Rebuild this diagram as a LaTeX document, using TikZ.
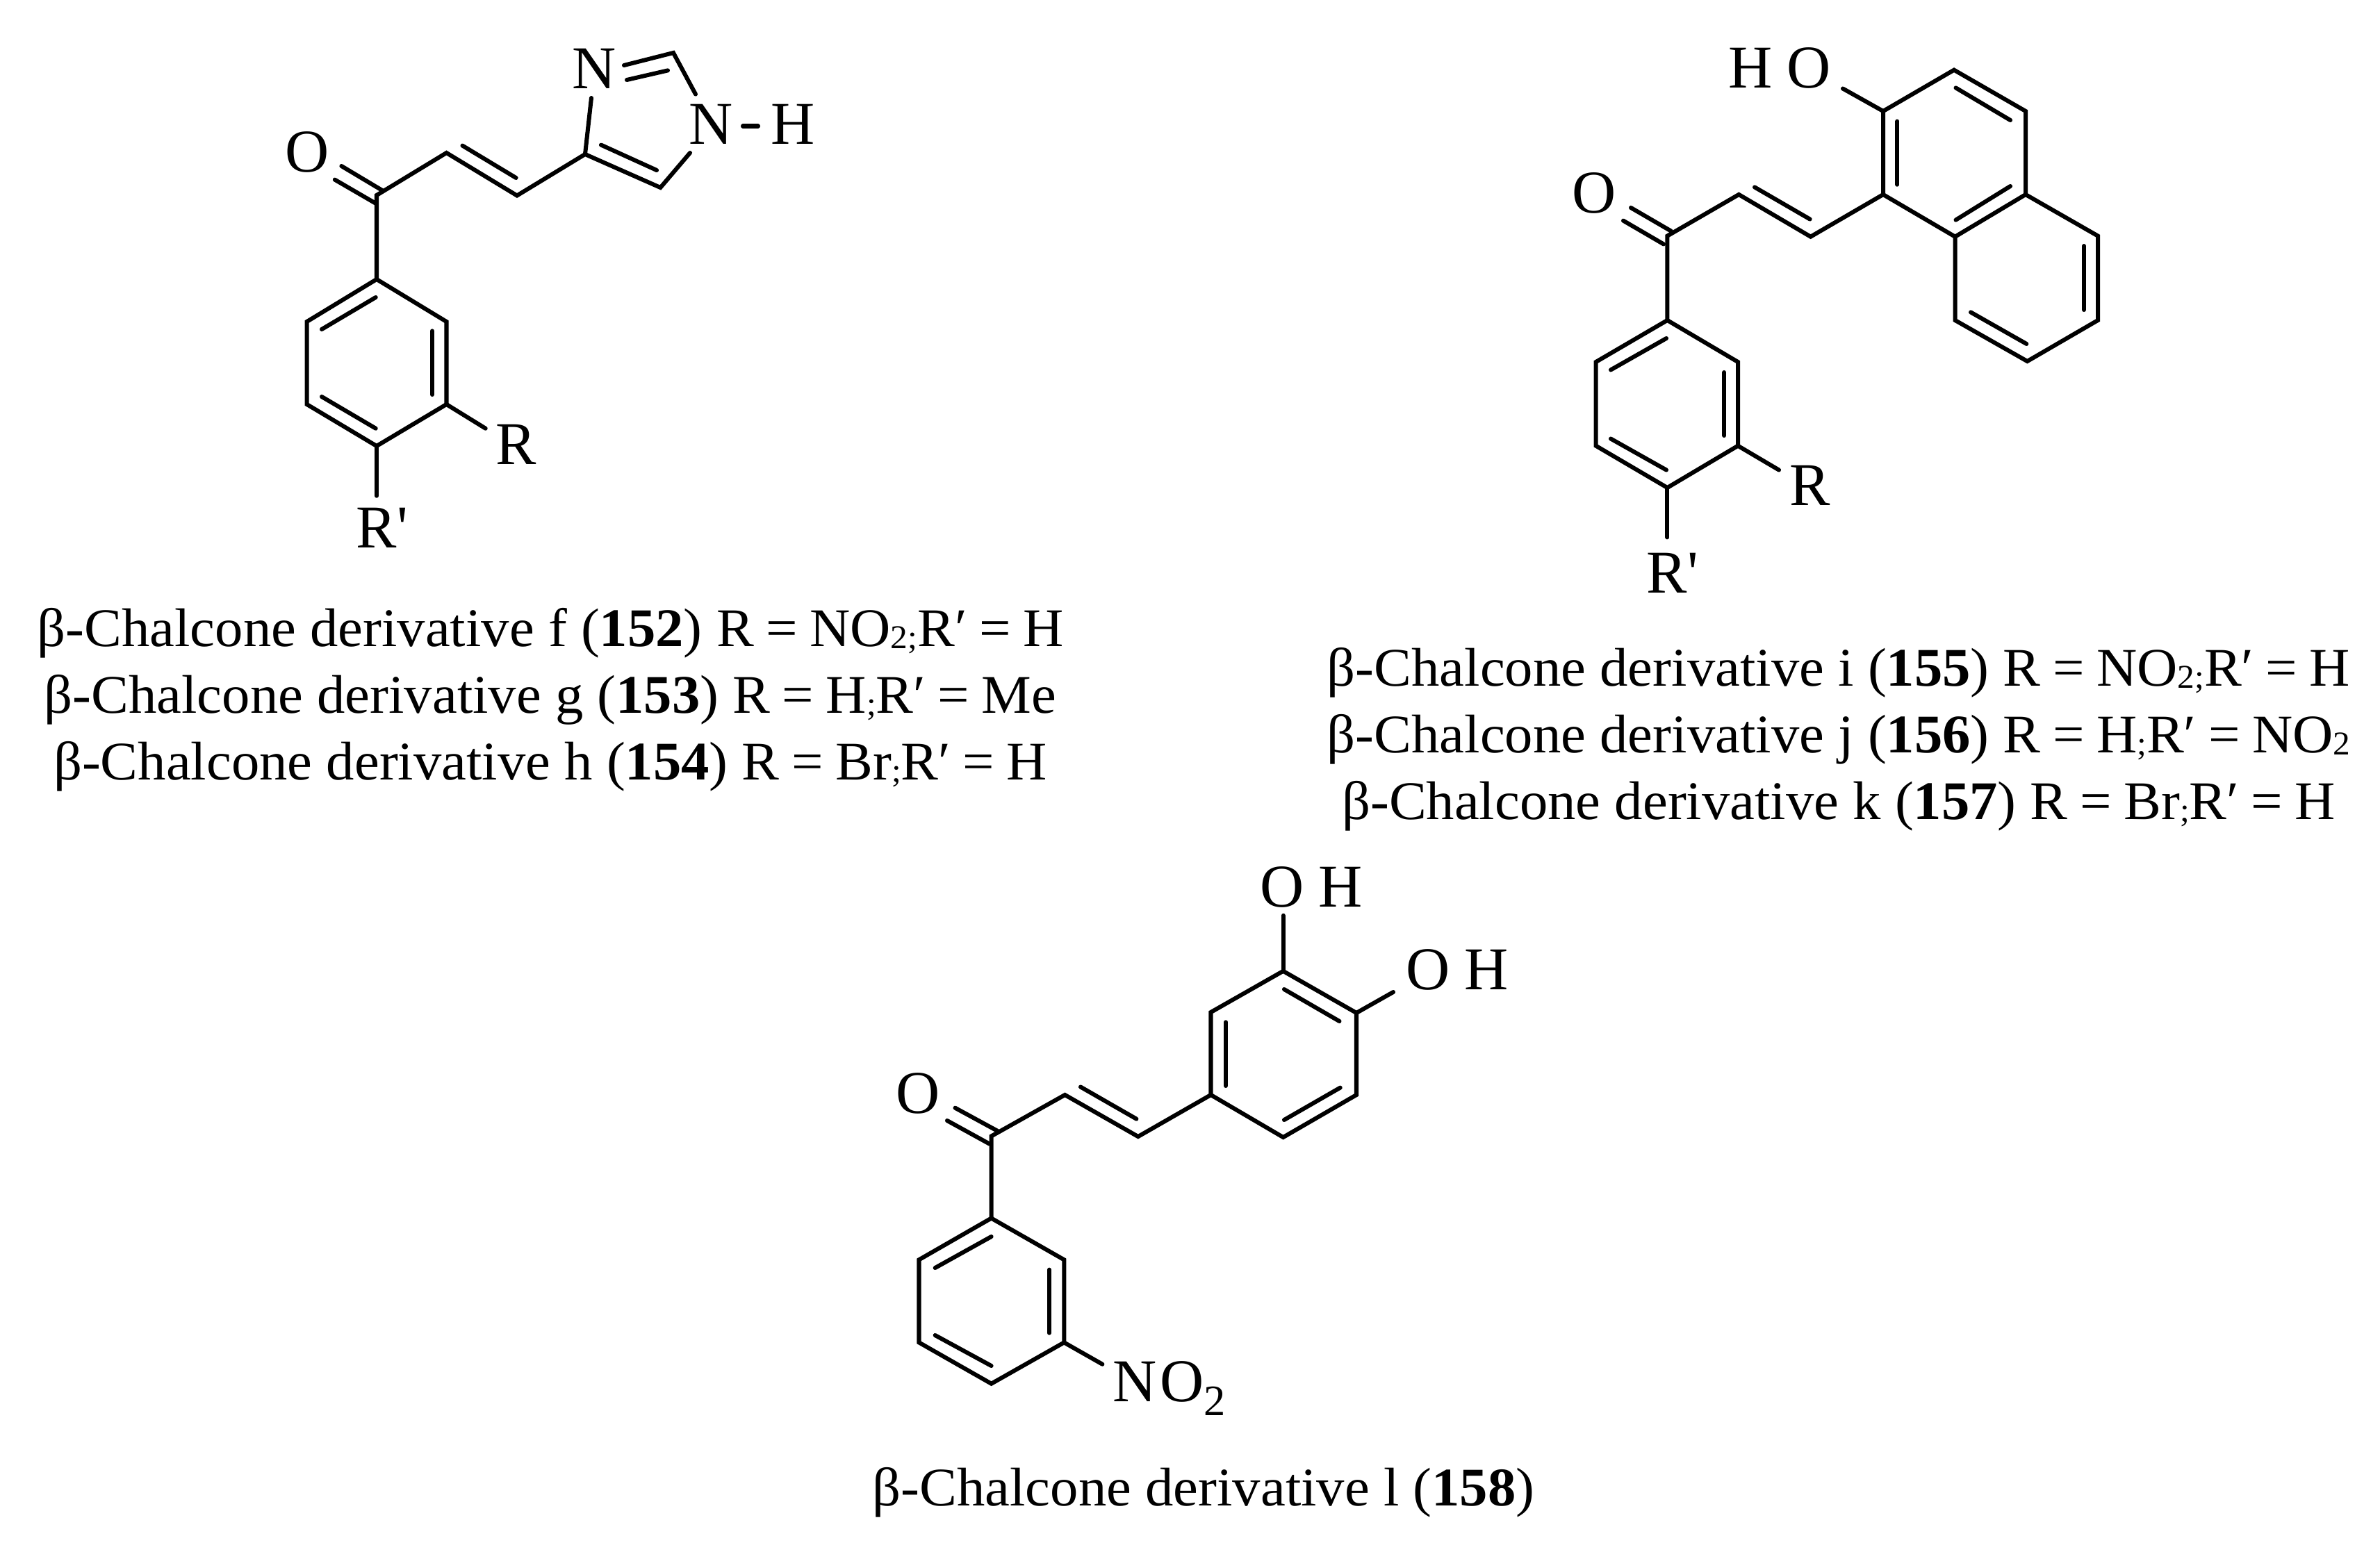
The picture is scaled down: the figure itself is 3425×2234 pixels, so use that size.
\documentclass[tikz,border=0pt]{standalone}
\usepackage{fontspec}
\setmainfont{Liberation Serif}
\newfontfamily\atomfont{Liberation Serif}
\newfontfamily\capfont[FakeStretch=1.03,BoldFont={Liberation Serif Bold},BoldFeatures={FakeStretch=1.03}]{Liberation Serif}
\newcommand{\sbs}[1]{\raisebox{-0.9pt}{\fontsize{11.5pt}{12pt}\selectfont #1}}
\newcommand{\eqs}{\kern4.2pt=\kern4.2pt}
\newcommand{\dbl}[5]{\coordinate (#1s) at (#2,#3); \coordinate (#1e) at (#4,#5); \draw[bond] (#1s) -- (#1e);}
\newcommand{\atm}[3]{\coordinate (#1) at (#2,#3);}
\tikzset{
  bond/.style={line width=1.45pt,line cap=round,line join=miter,black},
  atomlabel/.style={font=\atomfont\fontsize{21pt}{24pt}\selectfont,inner sep=0pt,anchor=base,text=black},
  captionline/.style={font=\capfont\fontsize{18.8pt}{24pt}\selectfont,inner sep=0pt,anchor=base,text=black},
}
\begin{document}
\begin{tikzpicture}[x=0.24pt,y=-0.24pt]
\useasboundingbox (0,0) rectangle (3425,2234);
\fill[white] (0,0) rectangle (3425,2234);

% ---------- molecule A: imidazole ----------
\atm{aC}{542}{281}\atm{aR1}{542}{402}\atm{aR2}{642.5}{463}\atm{aR3}{642.5}{582}\atm{aR4}{542}{642}\atm{aR5}{441.6}{582}\atm{aR6}{441.6}{463}
\atm{aA}{642.5}{220}\atm{aB}{744}{281.5}\atm{aI4}{842}{222}\atm{aI5}{950.4}{270}\atm{aI2}{969}{76}
\atm{aN1a}{993}{220}\atm{aN1b}{1001}{135.6}\atm{aN3a}{851}{141}\atm{aN3b}{898}{94}
\atm{aRe}{698.7}{616.7}\atm{aPe}{542}{713.7}
\draw[bond] (aR2) -- (aR1) -- (aR6) -- (aR5) -- (aR4) -- (aR3) -- cycle;
\draw[bond] (aR1) -- (aC) -- (aA) -- (aB) -- (aI4) -- (aI5) -- (aN1a);
\draw[bond] (aI4) -- (aN3a);
\draw[bond] (aN3b) -- (aI2) -- (aN1b);
\draw[bond] (aR3) -- (aRe);
\draw[bond] (aR4) -- (aPe);
\dbl{aD1}{463}{474}{540.7}{428}
\dbl{aD2}{622}{476.4}{622}{568}
\dbl{aD3}{463}{571}{540.7}{616.7}
\dbl{aD4}{665.5}{209.6}{742.6}{256}
\dbl{aD5}{865}{208.6}{945}{245}
\dbl{aD6}{902}{115}{961}{101.4}
\dbl{aD7}{491.4}{239}{550}{274}
\dbl{aD8}{481.8}{258.6}{540.7}{292.8}
\node[atomlabel] (aO) at (441.6,247) {O};
\node[atomlabel] (aN3) at (855,127) {N};
\node[atomlabel] (aN1) at (1023,207.5) {N};
\node[atomlabel] (aH) at (1140.6,207.5) {H};
\atm{aDa}{1069}{181.5}\atm{aDb}{1091}{181.5}
\draw[bond] (aDa) -- (aDb);
\node[atomlabel] (aRl) at (743,668) {R};
\node[atomlabel] (aPl) at (550,788) {R'};

\node[captionline] (c152) at (792,930) {β-Chalcone derivative f (\textbf{152}) R\eqs NO\sbs{2;}R′\eqs H};
\node[captionline] (c153) at (792,1026) {β-Chalcone derivative g (\textbf{153}) R\eqs H\sbs{;}R′\eqs Me};
\node[captionline] (c154) at (792,1122) {β-Chalcone derivative h (\textbf{154}) R\eqs Br\sbs{;}R′\eqs H};

% ---------- molecule B: naphthol ----------
\atm{bC}{2399.4}{339.6}\atm{bR1}{2399.4}{461}\atm{bR2}{2501}{521}\atm{bR3}{2501}{641.7}\atm{bR4}{2399.4}{702}\atm{bR5}{2296.6}{641.7}\atm{bR6}{2296.6}{521}
\atm{bA}{2502.3}{280}\atm{bB}{2605.6}{340.7}
\atm{bN1}{2710}{280}\atm{bN2}{2710}{160}\atm{bN3}{2812}{100.7}\atm{bN4}{2915}{160}\atm{bN4a}{2915}{280}\atm{bN8a}{2813.5}{340.7}
\atm{bN5}{3019}{339.6}\atm{bN6}{3019}{461}\atm{bN7}{2917.4}{520}\atm{bN8}{2813.5}{461}
\atm{bOe}{2652}{127.5}\atm{bRe}{2560}{676.5}\atm{bPe}{2399.4}{773.4}
\draw[bond] (bR1) -- (bR2) -- (bR3) -- (bR4) -- (bR5) -- (bR6) -- cycle;
\draw[bond] (bR1) -- (bC) -- (bA) -- (bB) -- (bN1);
\draw[bond] (bN1) -- (bN2) -- (bN3) -- (bN4) -- (bN4a) -- (bN8a) -- cycle;
\draw[bond] (bN4a) -- (bN5) -- (bN6) -- (bN7) -- (bN8) -- (bN8a);
\draw[bond] (bN2) -- (bOe);
\draw[bond] (bR3) -- (bRe);
\draw[bond] (bR4) -- (bPe);
\dbl{bD1}{2318}{532.4}{2398}{487}
\dbl{bD2}{2481.4}{536}{2481.4}{627}
\dbl{bD3}{2318}{631.5}{2398}{676.5}
\dbl{bD4}{2525}{269.4}{2604.6}{315.5}
\dbl{bD5}{2730.4}{174.6}{2730.4}{265.7}
\dbl{bD6}{2814.5}{126.4}{2893}{173}
\dbl{bD7}{2893}{268}{2814.5}{316.6}
\dbl{bD8}{2999}{354}{2999}{446}
\dbl{bD9}{2916.3}{495}{2836}{449.4}
\dbl{bD10}{2347}{299}{2404.8}{332.6}
\dbl{bD11}{2336}{317.6}{2394}{351.4}
\node[atomlabel] (bHO) at (2561.5,126) {H\kern5pt O};
\node[atomlabel] (bO) at (2294,306) {O};
\node[atomlabel] (bRl) at (2604.6,727.5) {R};
\node[atomlabel] (bPl) at (2407,853.4) {R'};

\node[captionline] (c155) at (2646,987) {β-Chalcone derivative i (\textbf{155}) R\eqs NO\sbs{2;}R′\eqs H};
\node[captionline] (c156) at (2646,1083) {β-Chalcone derivative j (\textbf{156}) R\eqs H\sbs{;}R′\eqs NO\sbs{2}};
\node[captionline] (c157) at (2646,1179) {β-Chalcone derivative k (\textbf{157}) R\eqs Br\sbs{;}R′\eqs H};

% ---------- molecule C: catechol / nitro ----------
\atm{cC}{1426.6}{1635.4}\atm{cR1}{1426.6}{1753.5}\atm{cR2}{1531.3}{1813.3}\atm{cR3}{1531.3}{1932.4}\atm{cR4}{1426.6}{1991.7}\atm{cR5}{1322.5}{1932.4}\atm{cR6}{1322.5}{1813.3}
\atm{cA}{1532.5}{1576}\atm{cB}{1637.8}{1636}
\atm{cS1}{1742.5}{1576}\atm{cS2}{1742.5}{1457}\atm{cS3}{1846.6}{1397.8}\atm{cS4}{1952}{1458}\atm{cS5}{1952}{1576}\atm{cS6}{1846.6}{1637}
\atm{cO1e}{1846.6}{1317.8}\atm{cO2e}{2005}{1428}\atm{cNe}{1586.4}{1963.7}
\draw[bond] (cR1) -- (cR2) -- (cR3) -- (cR4) -- (cR5) -- (cR6) -- cycle;
\draw[bond] (cR1) -- (cC) -- (cA) -- (cB) -- (cS1);
\draw[bond] (cS1) -- (cS2) -- (cS3) -- (cS4) -- (cS5) -- (cS6) -- cycle;
\draw[bond] (cS3) -- (cO1e);
\draw[bond] (cS4) -- (cO2e);
\draw[bond] (cR3) -- (cNe);
\dbl{cD1}{1345.7}{1825}{1426.6}{1780}
\dbl{cD2}{1510}{1827.6}{1510}{1918.7}
\dbl{cD3}{1345.7}{1922}{1426.6}{1966}
\dbl{cD4}{1555}{1564.5}{1635.4}{1610.6}
\dbl{cD5}{1764}{1471.3}{1764}{1563}
\dbl{cD6}{1848}{1424}{1927.5}{1470}
\dbl{cD7}{1928.7}{1565.6}{1848}{1612}
\dbl{cD8}{1374.5}{1594.7}{1435.7}{1628}
\dbl{cD9}{1363}{1613}{1424}{1646.6}
\node[atomlabel] (cO) at (1321,1602.6) {O};
\node[atomlabel] (cOH1) at (1887,1305) {O\kern5pt H};
\node[atomlabel] (cOH2) at (2097.5,1424) {O\kern5pt H};
\node[atomlabel,anchor=base west] (cNO) at (1601,2017) {N\kern1pt O\raisebox{-4.8pt}{\fontsize{15pt}{16pt}\selectfont 2}};

\node[captionline] (c158) at (1732,2167) {β-Chalcone derivative l (\textbf{158})};
\end{tikzpicture}
\end{document}
